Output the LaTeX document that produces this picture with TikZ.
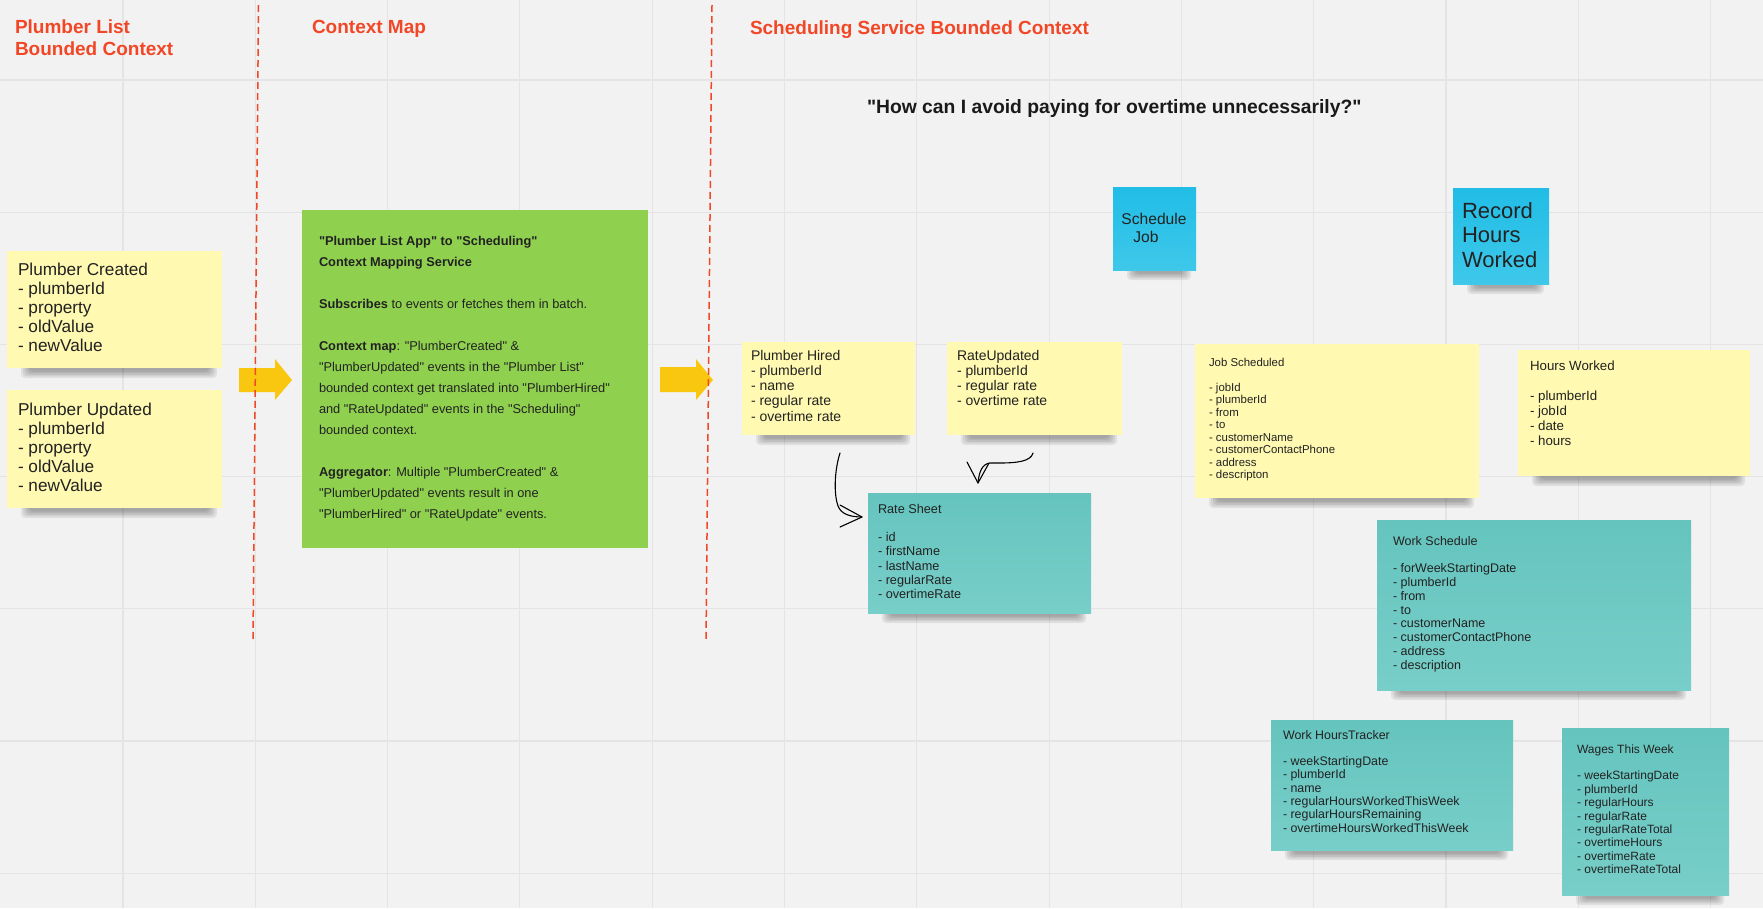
\documentclass[tikz,border=0pt]{standalone}
\usepackage{fontspec}
\setmainfont{Liberation Sans}
\newfontfamily\lsans{Liberation Sans}
\usetikzlibrary{calc}
\definecolor{bgc}{HTML}{F2F2F2}
\definecolor{gridc}{HTML}{E4E4E4}
\definecolor{redc}{HTML}{F24726}
\definecolor{yel}{HTML}{FFF9B1}
\definecolor{arrowc}{HTML}{FAC710}
\definecolor{greenc}{HTML}{8FD14F}
\definecolor{tealtop}{HTML}{65C4BE}
\definecolor{tealbot}{HTML}{78CEC9}
\definecolor{bluetop}{HTML}{21BDE6}
\definecolor{bluebot}{HTML}{3EC8EA}
\definecolor{ink}{HTML}{222222}
\definecolor{qink}{HTML}{1A1A1A}
\newcommand{\ls}[1]{{\lsans\begin{tabular}[t]{@{}l@{}}#1\end{tabular}}}
\newcommand{\fs}[2]{\fontsize{#1}{#2}\selectfont}
\pgfdeclarelayer{back}
\pgfdeclarelayer{shade}
\pgfsetlayers{back,shade,main}
\newcommand{\nshadow}[1]{%
  \begin{pgfonlayer}{shade}
  \foreach \i in {0,...,4}{
    \fill[black,opacity=0.07,rounded corners=4]
      ([xshift={14+2*\i},yshift=3]#1.south west) rectangle
      ([xshift={-5-2*\i},yshift={-10+1.6*\i}]#1.south east);
  }
  \end{pgfonlayer}}
\tikzset{
  box/.style={inner sep=0pt, outer sep=0pt, anchor=north west, draw=none},
  ynote/.style={box, fill=yel},
  tnote/.style={box, top color=tealtop, bottom color=tealbot},
  bnote/.style={box, top color=bluetop, bottom color=bluebot},
  gnote/.style={box, fill=greenc},
  txt/.style={inner sep=0pt, outer sep=0pt, anchor=base west, text=ink},
  ttl/.style={inner sep=0pt, outer sep=0pt, anchor=base west, text=redc, font=\bfseries\fs{19}{22}},
  sep/.style={redc, line width=1.5pt, dash pattern=on 7pt off 4pt},
  blockarrow/.style={fill=arrowc, draw=none},
  hand/.style={black, line width=1.1pt, line cap=round, line join=round},
}
\begin{document}
\begin{tikzpicture}[x=1pt,y=-1pt]
\useasboundingbox (0,0) rectangle (1763,908);
\begin{pgfonlayer}{back}
  \fill[bgc] (0,0) rectangle (1763,908);
  \foreach \k in {0,...,12}{
    \draw[gridc, line width=1.1pt] ({123+132.3*\k},0) -- ({123+132.3*\k},908);
  }
  \foreach \k in {0,...,6}{
    \draw[gridc, line width=1.1pt] (0,{80+132.2*\k}) -- (1763,{80+132.2*\k});
  }
\end{pgfonlayer}

% titles
\node[ttl] (t1) at (15,33) {\ls{Plumber List\\Bounded Context}};
\node[ttl] (t2) at (312,33) {Context Map};
\node[ttl] (t3) at (750,34) {Scheduling Service Bounded Context};
\node[txt, text=qink, font=\bfseries\fs{19.3}{22}] (q) at (867,113)
  {\lsans "How can I avoid paying for overtime unnecessarily?"};

% plumber list context
\node[ynote, minimum width=215, minimum height=117] (pc) at (7,251) {};
\node[txt, font=\fs{17.2}{19}] (pct) at (18,275)
  {\ls{Plumber Created\\- plumberId\\- property\\- oldValue\\- newValue}};
\node[ynote, minimum width=215, minimum height=118] (pu) at (7,390) {};
\node[txt, font=\fs{17.2}{19}] (put) at (18,415)
  {\ls{Plumber Updated\\- plumberId\\- property\\- oldValue\\- newValue}};
\nshadow{pc}
\nshadow{pu}

% block arrows
\fill[blockarrow] (239,368) -- (275,368) -- (275,359) -- (292,380) -- (275,400) -- (275,392) -- (239,392) -- cycle;
\fill[blockarrow] (660,367) -- (696,367) -- (696,359) -- (713,380) -- (696,400) -- (696,392) -- (660,392) -- cycle;

% context map box
\node[gnote, minimum width=346, minimum height=338] (cm) at (302,210) {};
\node[txt, font=\fs{12.8}{21}] (cmt) at (319,245)
  {\ls{\textbf{"Plumber List App" to "Scheduling"}\\
  \textbf{Context Mapping Service}\\
  \\
  \textbf{Subscribes} to events or fetches them in batch.\\
  \\
  \textbf{Context map}: "PlumberCreated" \&\\
  "PlumberUpdated" events in the "Plumber List"\\
  bounded context get translated into "PlumberHired"\\
  and "RateUpdated" events in the "Scheduling"\\
  bounded context.\\
  \\
  \textbf{Aggregator}: Multiple "PlumberCreated" \&\\
  "PlumberUpdated" events result in one\\
  "PlumberHired" or "RateUpdate" events.}};

% separators
\draw[sep] (258.5,5) -- (253,641);
\draw[sep] (712,5) -- (706,641);

% scheduling context
\node[ynote, minimum width=173, minimum height=93] (ph) at (742,342) {};
\node[txt, font=\fs{14}{15.3}] (pht) at (751,360)
  {\ls{Plumber Hired\\- plumberId\\- name\\- regular rate\\- overtime rate}};
\node[ynote, minimum width=175, minimum height=93] (ru) at (947,342) {};
\node[txt, font=\fs{14}{15.3}] (rut) at (957,360)
  {\ls{RateUpdated\\- plumberId\\- regular rate\\- overtime rate}};
\nshadow{ph}
\nshadow{ru}

\node[tnote, minimum width=223, minimum height=120] (rs) at (868,493) {};
\node[txt, font=\fs{12.7}{14.3}] (rst) at (878,513)
  {\ls{Rate Sheet\\ \\- id\\- firstName\\- lastName\\- regularRate\\- overtimeRate}};
\nshadow{rs}

% hand-drawn arrows
\coordinate (a1s) at ([xshift=98,yshift=-18]ph.south west);
\coordinate (a1e) at ([xshift=-6,yshift=36]rs.west);
\draw[hand] (a1s) .. controls (834,472) and (834,495) .. (838,506)
  .. controls (841,514) and (850,517) .. (a1e);
\draw[hand] (a1e) -- +(-22,-12) (a1e) -- +(-22,10);
\coordinate (a2s) at ([xshift=86,yshift=-18]ru.south west);
\coordinate (a2e) at ([xshift=-1.5,yshift=10]rs.north);
\draw[hand] (a2s) .. controls (1031,461) and (1018,463) .. (1000,463) -- (990,463)
  .. controls (982,464) and (979,472) .. (a2e);
\draw[hand] (a2e) -- +(-11,-21) (a2e) -- +(11,-20);

% commands
\node[bnote, minimum width=83, minimum height=83] (sj) at (1113,187) {};
\node[inner sep=0pt, anchor=base, text=ink, font=\fs{15.6}{18}] (sjt) at (1154,224)
  {\begin{tabular}[t]{@{}c@{}}Schedule\\Job\hspace*{16pt}\end{tabular}};
\node[bnote, minimum width=96, minimum height=96] (rh) at (1453,188) {};
\node[txt, font=\fs{22}{24.5}] (rht) at (1462,218)
  {\ls{Record\\Hours\\Worked}};
\nshadow{sj}
\nshadow{rh}

% events / read models
\node[ynote, minimum width=284, minimum height=154] (js) at (1195,344) {};
\node[txt, font=\fs{11.4}{12.5}] (jst) at (1209,366)
  {\ls{Job Scheduled\\ \\- jobId\\- plumberId\\- from\\- to\\- customerName\\- customerContactPhone\\- address\\- descripton}};
\nshadow{js}

\node[ynote, minimum width=232, minimum height=126] (hw) at (1518,350) {};
\node[txt, font=\fs{13.3}{15}] (hwt) at (1530,370)
  {\ls{Hours Worked\\ \\- plumberId\\- jobId\\- date\\- hours}};
\nshadow{hw}

\node[tnote, minimum width=314, minimum height=170] (ws) at (1377,520) {};
\node[txt, font=\fs{12.5}{13.8}] (wst) at (1393,545)
  {\ls{Work Schedule\\ \\- forWeekStartingDate\\- plumberId\\- from\\- to\\- customerName\\- customerContactPhone\\- address\\- description}};
\nshadow{ws}

\node[tnote, minimum width=242, minimum height=130] (wh) at (1271,720) {};
\node[txt, font=\fs{12.4}{13.3}] (wht) at (1283,739)
  {\ls{Work HoursTracker\\ \\- weekStartingDate\\- plumberId\\- name\\- regularHoursWorkedThisWeek\\- regularHoursRemaining\\- overtimeHoursWorkedThisWeek}};
\nshadow{wh}

\node[tnote, minimum width=167, minimum height=167] (ww) at (1562,728) {};
\node[txt, font=\fs{12}{13.4}] (wwt) at (1577,753)
  {\ls{Wages This Week\\ \\- weekStartingDate\\- plumberId\\- regularHours\\- regularRate\\- regularRateTotal\\- overtimeHours\\- overtimeRate\\- overtimeRateTotal}};
\nshadow{ww}
\end{tikzpicture}
\end{document}
